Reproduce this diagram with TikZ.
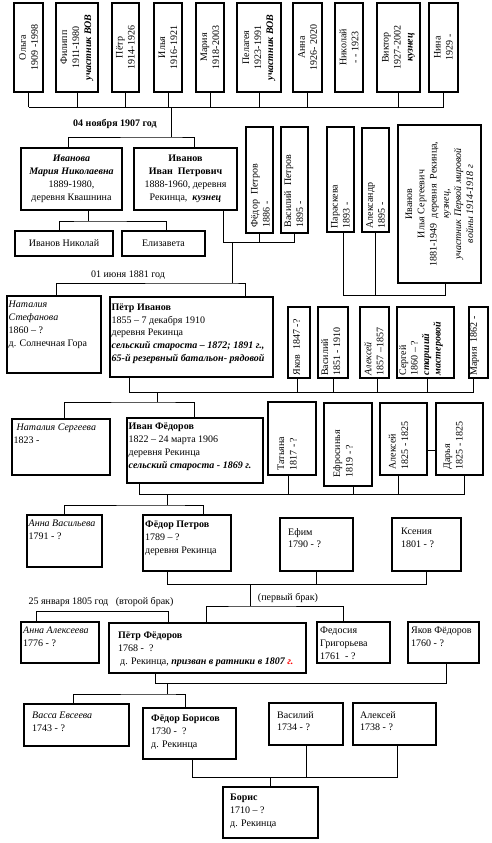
\documentclass[tikz,border=0pt]{standalone}
\usepackage{fontspec}
\setmainfont{Liberation Serif}
\usetikzlibrary{calc}
\newcommand\famBox[5]{\node[bx, minimum width={(#4-#2)*1pt}, minimum height={(#5-#3)*1pt}] (#1) at ({(#2+#4)/2},{(#3+#5)/2}) {};}
\newcommand\bitx[1]{\textbf{\textit{#1}}}
\tikzset{
  bx/.style={draw, line width=1.1pt, inner sep=0pt, rectangle},
  cn/.style={line width=0.9pt},
  tl/.style={anchor=north west, inner sep=0pt, align=left, font=\fontsize{10}{12.8}\selectfont},
  tc/.style={inner sep=0pt, align=center, font=\fontsize{10}{13}\selectfont},
  rl/.style={rotate=90, anchor=north west, inner sep=0pt, align=left, font=\fontsize{10}{12}\selectfont},
  rc/.style={rotate=90, inner sep=0pt, align=center, font=\fontsize{10}{12}\selectfont},
  lab/.style={inner sep=0pt, font=\fontsize{10}{12}\selectfont},
}
\begin{document}
\begin{tikzpicture}[x=1pt,y=-1pt]
\useasboundingbox (0,0) rectangle (491,843);
% ---------- top row ----------
\famBox{olga}{14}{3}{43}{92}
\famBox{filipp}{56}{3}{98}{92}
\famBox{petrA}{112}{3}{139}{92}
\famBox{ilyaA}{154}{3}{182}{92}
\famBox{mariaA}{196}{3}{224}{92}
\famBox{pelageya}{237}{3}{281}{92}
\famBox{annaB}{293}{3}{322}{92}
\famBox{nikolayA}{335}{3}{363}{92}
\famBox{viktor}{377}{3}{420}{92}
\famBox{nina}{429}{3}{458}{92}
\node[rc] (olga-t) at (olga) {Ольга\\1909 -1998};
\node[rc] (filipp-t) at (filipp) {Филипп\\1911-1980\\\bitx{участник ВОВ}};
\node[rc] (petrA-t) at (petrA) {Пётр\\1914-1926};
\node[rc] (ilyaA-t) at (ilyaA) {Илья\\1916-1921};
\node[rc] (mariaA-t) at (mariaA) {Мария\\1918-2003};
\node[rc] (pelageya-t) at (pelageya) {Пелагея\\1923-1991\\\bitx{участник ВОВ}};
\node[rc] (annaB-t) at (annaB) {Анна\\1926- 2020};
\node[rc] (nikolayA-t) at (nikolayA) {Николай\\- - 1923};
\node[rc] (viktor-t) at (viktor) {Виктор\\1927-2002\\\bitx{кузнец}};
\node[rc] (nina-t) at (nina) {Нина\\1929 -};
\coordinate (tb) at (171,107);
\foreach \n in {olga,filipp,petrA,ilyaA,mariaA,pelageya,annaB,viktor,nina}
  \draw[cn] (\n.south) -- (\n.south |- tb);
\draw[cn] (olga.south |- tb) -- (nina.south |- tb);
% ---------- Ivanov parents ----------
\famBox{ivanova}{21}{148}{122}{210}
\famBox{ivanovI}{134}{148}{237}{210}
\node[tc] (ivanova-t) at (ivanova) {\bitx{Иванова}\\\bitx{Мария Николаевна}\\1889-1980,\\деревня Квашнина};
\node[tc] (ivanovI-t) at (ivanovI) {\textbf{Иванов}\\\textbf{Иван~~Петрович}\\1888-1960, деревня\\Рекинца,~ \bitx{кузнец}};
\node[lab, font=\fontsize{10}{12}\selectfont\bfseries] (d1907) at (115,124) {04 ноября 1907 год};
\coordinate (pb) at (171,137);
\draw[cn] (tb) -- (pb);
\draw[cn] ([xshift=-3.5pt]ivanova.north) |- (pb) -| ([xshift=8.5pt]ivanovI.north);
% children
\famBox{nikolayI}{15}{231}{113}{256}
\famBox{elizaveta}{122}{231}{205}{256}
\node[tc] (nikolayI-t) at (nikolayI) {Иванов Николай};
\node[tc] (elizaveta-t) at (elizaveta) {Елизавета};
\coordinate (cb) at (88,221);
\draw[cn] ([xshift=16.5pt]ivanova.south) -- (cb);
\draw[cn] ([xshift=-5pt]nikolayI.north) |- (cb) -| ([xshift=2.5pt]elizaveta.north);
% ---------- siblings of Ivan Petrovich ----------
\famBox{fedorP}{246}{127}{273}{233}
\famBox{vasiliyP}{281}{127}{308}{233}
\node[rl] (fedorP-t) at ([shift={(5.5pt,6pt)}]fedorP.south west) {Фёдор~~Петров\\1886 -};
\node[rl] (vasiliyP-t) at ([shift={(3.5pt,6pt)}]vasiliyP.south west) {Василий~~Петров\\1895 -};
\coordinate (jb) at (232,242);
\draw[cn] ([xshift=-14pt]ivanovI.south east) |- (vasiliyP.south |- jb) -- (vasiliyP.south);
\draw[cn] (fedorP.south) -- (fedorP.south |- jb);
% ---------- Petr Ivanov ----------
\famBox{natalyaS}{7}{296}{101}{373}
\famBox{petrI}{110}{297}{273}{377}
\node[tl] (natalyaS-t) at (8.5,301) {\textit{Наталия}\\\textit{Стефанова}\\1860 – ?\\д. Солнечная Гора};
\node[tl] (petrI-t) at (111.5,303.5) {\textbf{Пётр Иванов}\\1855 – 7 декабря 1910\\деревня Рекинца\\\bitx{сельский староста – 1872; 1891 г.,}\\\bitx{65-й резервный батальон- рядовой}};
\node[lab] (d1881) at (128,275) {01 июня 1881 год};
\coordinate (mb) at (232,283);
\draw[cn] (jb) -- (mb);
\draw[cn] ([xshift=2pt]natalyaS.north) |- (mb) -| ([xshift=53.5pt]petrI.north);
% ---------- Paraskeva, Aleksandr, Ilya S. ----------
\famBox{paraskeva}{327}{127}{354}{232}
\famBox{aleksandr}{362}{128}{389}{232}
\famBox{ilyaS}{398}{125}{481}{283}
\node[rl] (paraskeva-t) at ([shift={(4.5pt,4pt)}]paraskeva.south west) {Параскева\\1893 -};
\node[rl] (aleksandr-t) at ([shift={(4.5pt,4pt)}]aleksandr.south west) {Александр\\1895 -};
\node[rc, font=\fontsize{10}{12.2}\selectfont] (ilyaS-t) at (ilyaS) {Иванов\\Илья Сергеевич\\1881-1949~ деревня~ Рекинца,\\\textit{кузнец,}\\\textit{участник Первой мировой}\\\textit{войны 1914-1918 г}};
\coordinate (pab) at (343,295);
\coordinate (parD) at ([xshift=2.5pt]paraskeva.south);
\coordinate (ilyD) at ([xshift=5.5pt]ilyaS.south);
\draw[cn] (parD) |- (ilyD |- pab) -- (ilyD);
\draw[cn] (aleksandr.south) -- (aleksandr.south |- pab);
% ---------- siblings of Petr Ivanov ----------
\famBox{yakov}{288}{307}{310}{378}
\famBox{vasiliyB}{318}{307}{348}{378}
\famBox{alekseyB}{360}{307}{389}{378}
\famBox{sergey}{397}{307}{454}{378}
\famBox{mariaB}{469}{307}{488}{378}
\node[rl] (yakov-t) at ([shift={(5.5pt,3pt)}]yakov.south west) {Яков~ 1847 -?};
\node[rl] (vasiliyB-t) at ([shift={(3.5pt,2.5pt)}]vasiliyB.south west) {Василий\\1851 - 1910};
\node[rl] (alekseyB-t) at ([shift={(4.5pt,3pt)}]alekseyB.south west) {\textit{Алексей}\\1857 –1857};
\node[rl, font=\fontsize{10}{11.5}\selectfont] (sergey-t) at ([shift={(2.5pt,3pt)}]sergey.south west) {Сергей\\1860 – ?\\\bitx{старший}\\\bitx{мастеровой}};
\node[rl] (mariaB-t) at ([shift={(1.5pt,3pt)}]mariaB.south west) {Мария~ 1862 -};
\coordinate (sb) at (157,392);
\coordinate (petrID) at ([xshift=-62.5pt]petrI.south);
\coordinate (yakD) at ([xshift=-2pt]yakov.south);
\coordinate (alBD) at ([xshift=2.5pt]alekseyB.south);
\coordinate (serD) at ([xshift=1.5pt]sergey.south);
\coordinate (marBD) at ([xshift=-5.5pt]mariaB.south);
\draw[cn] (petrID) |- (marBD |- sb) -- (marBD);
\foreach \c in {yakD,vasiliyB.south,alBD,serD} \draw[cn] (\c) -- (\c |- sb);
% ---------- Ivan Fedorov ----------
\famBox{natalyaSerg}{12}{419}{110}{475}
\famBox{ivanF}{127}{418}{263}{483}
\node[tl] (natalyaSerg-t) at (13.5,424) {\hspace{3pt}\textit{Наталия Сергеева}\\1823 -};
\node[tl] (ivanF-t) at (128.5,423) {\textbf{Иван Фёдоров}\\1822 – 24 марта 1906\\деревня Рекинца\\\bitx{сельский староста - 1869 г.}};
\coordinate (ib) at (157,402);
\draw[cn] (sb) -- (ib);
\draw[cn] ([xshift=3pt]natalyaSerg.north) |- (ib) -| ([xshift=-1pt]ivanF.north);
% children of Ivan Fedorov's parents
\famBox{tatyana}{268}{402}{316}{475}
\famBox{efrosinya}{324}{403}{372}{486}
\famBox{alekseyC}{380}{403}{427}{475}
\famBox{darya}{436}{403}{483}{475}
\node[rl, font=\fontsize{10}{12.5}\selectfont] (tatyana-t) at ([shift={(10pt,5pt)}]tatyana.south west) {Татьяна\\1817 - ?};
\node[rl, font=\fontsize{10}{12.5}\selectfont] (efrosinya-t) at ([shift={(9.5pt,9pt)}]efrosinya.south west) {Ефросинья\\1819 - ?};
\node[rl, font=\fontsize{10}{12.5}\selectfont] (alekseyC-t) at ([shift={(9pt,6pt)}]alekseyC.south west) {Алексей\\1825 - 1825};
\node[rl, font=\fontsize{10}{12.5}\selectfont] (darya-t) at ([shift={(8pt,6pt)}]darya.south west) {Дарья\\1825 - 1825};
\draw[cn] (alekseyC.east |- 0,450) -- (darya.west |- 0,450);
\coordinate (kb) at (167,494);
\coordinate (ivFD) at ([xshift=-56pt]ivanF.south);
\coordinate (tatD) at ([xshift=-4pt]tatyana.south);
\coordinate (efrD) at ([xshift=5pt]efrosinya.south);
\coordinate (alCD) at ([xshift=-5.5pt]alekseyC.south);
\coordinate (darD) at ([xshift=4.5pt]darya.south);
\draw[cn] (ivFD) |- (darD |- kb) -- (darD);
\foreach \c in {tatD,efrD,alCD} \draw[cn] (\c) -- (\c |- kb);
% ---------- Fedor Petrov ----------
\famBox{annaV}{27}{515}{102}{567}
\famBox{fedorPetrov}{143}{515}{231}{571}
\famBox{efim}{280}{518}{353}{571}
\famBox{kseniya}{392}{518}{461}{571}
\node[tl] (annaV-t) at (28.5,520) {\textit{Анна Васильева}\\1791 - ?};
\node[tl] (fedorPetrov-t) at (145,521) {\textbf{Фёдор Петров}\\1789 – ?\\деревня Рекинца};
\node[tl] (efim-t) at (288,528) {Ефим\\1790 - ?};
\node[tl] (kseniya-t) at (401,528) {Ксения\\1801 - ?};
\coordinate (jb2) at (167,505);
\draw[cn] (kb) -- (jb2);
\draw[cn] (annaV.north) |- (jb2) -| ([xshift=16pt]fedorPetrov.north);
\coordinate (eb) at (250,584);
\draw[cn] ([xshift=-20pt]fedorPetrov.south) |- (kseniya.south |- eb) -- (kseniya.south);
\draw[cn] (efim.south) -- (efim.south |- eb);
% ---------- Petr Fedorov ----------
\famBox{annaA}{21}{622}{99}{663}
\famBox{petrF}{109}{623}{306}{673}
\famBox{fedosiya}{317}{622}{390}{663}
\famBox{yakovF}{408}{622}{479}{663}
\node[tl] (annaA-t) at (23,627) {\textit{Анна Алексеева}\\1776 - ?};
\node[tl] (petrF-t) at (118,632) {\textbf{Пётр Фёдоров}\\1768 -~ ?\\\hspace{2pt}д. Рекинца, \bitx{призван в ратники в 1807 \textcolor{red}{г.}}};
\node[tl] (fedosiya-t) at (320,627) {Федосия\\Григорьева\\1761~ - ?};
\node[tl] (yakovF-t) at (411,627) {Яков Фёдоров\\1760 - ?};
\node[lab] (d1805) at (101,602) {25 января 1805 год~~~(второй брак)};
\node[lab] (first) at (288,598) {(первый брак)};
\coordinate (fb) at (250,606);
\draw[cn] (eb) -- (fb);
\draw[cn] ([xshift=-1.5pt]petrF.north) |- (fb) -| ([xshift=-10.5pt]fedosiya.north);
\coordinate (smb) at (100,611);
\coordinate (annaAu) at ([xshift=-24pt]annaA.north);
\coordinate (petrFu) at ([xshift=-39.5pt]petrF.north);
\draw[cn] (annaAu) -- (annaAu |- smb) -- (petrFu |- smb) -- (petrFu);
\coordinate (gb) at (167,683);
\coordinate (petrFD) at ([xshift=-52.5pt]petrF.south);
\coordinate (yakFD) at ([xshift=2.5pt]yakovF.south);
\draw[cn] (petrFD) |- (yakFD |- gb) -- (yakFD);
% ---------- Fedor Borisov ----------
\famBox{vassa}{24}{704}{129}{746}
\famBox{fedorB}{143}{708}{236}{759}
\famBox{vasiliyC}{269}{703}{343}{745}
\famBox{alekseyD}{353}{703}{436}{745}
\node[tl] (vassa-t) at (32,712) {\textit{Васса Евсеева}\\1743 - ?};
\node[tl] (fedorB-t) at (151,715) {\textbf{Фёдор Борисов}\\1730 -~ ?\\д. Рекинца};
\node[tl] (vasiliyC-t) at (277,711) {Василий\\1734 - ?};
\node[tl] (alekseyD-t) at (360,711) {Алексей\\1738 - ?};
\coordinate (hb) at (167,694);
\draw[cn] (gb) -- (hb);
\draw[cn] ([xshift=-3.5pt]vassa.north) |- (hb) -| ([xshift=-4.5pt]fedorB.north);
% ---------- Boris ----------
\famBox{boris}{223}{787}{318}{838}
\node[tl] (boris-t) at (230,794) {\textbf{Борис}\\1710 – ?\\д. Рекинца};
\coordinate (bb) at (270,777);
\coordinate (fBD) at ([xshift=2.5pt]fedorB.south);
\coordinate (alDD) at ([xshift=2.5pt]alekseyD.south);
\draw[cn] (fBD) |- (alDD |- bb) -- (alDD);
\draw[cn] (vasiliyC.south) -- (vasiliyC.south |- bb);
\draw[cn] (boris.north) -- (boris.north |- bb);
\end{tikzpicture}
\end{document}
